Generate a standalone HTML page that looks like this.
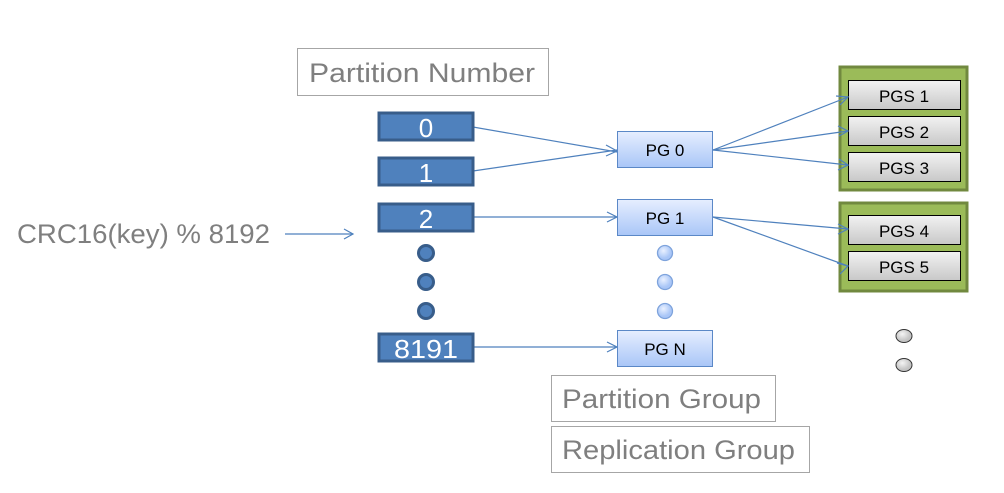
<!DOCTYPE html>
<html><head><style>
body{margin:0;background:#fff;width:1004px;height:493px;overflow:hidden;font-family:"Liberation Sans","Noto Sans CJK KR",sans-serif}
</style></head><body>
<svg width="1004" height="493" xmlns="http://www.w3.org/2000/svg" style="position:absolute;left:0;top:0">
<defs>
<linearGradient id="pg" x1="0" y1="0" x2="0" y2="1"><stop offset="0" stop-color="#e6eeff"/><stop offset="1" stop-color="#a9c6f7"/></linearGradient>
<linearGradient id="gs" x1="0" y1="0" x2="0" y2="1"><stop offset="0" stop-color="#f2f2f2"/><stop offset="1" stop-color="#c8c8c8"/></linearGradient>
<radialGradient id="lc" cx="0.4" cy="0.35"><stop offset="0" stop-color="#eaf1ff"/><stop offset="1" stop-color="#a9c6f7"/></radialGradient>
<radialGradient id="gc" cx="0.4" cy="0.35"><stop offset="0" stop-color="#f4f4f4"/><stop offset="1" stop-color="#c4c4c4"/></radialGradient>
</defs>
<g fill="none" stroke="#a6a6a6" stroke-width="1">
<rect x="297.5" y="48.5" width="251" height="47"/>
<rect x="551.5" y="375.5" width="224" height="46"/>
<rect x="551.5" y="426.5" width="258" height="46"/>
</g>
<g font-size="27" fill="#7f7f7f">
<text x="309" y="82" textLength="226" lengthAdjust="spacingAndGlyphs">Partition Number</text>
<text x="562" y="408" textLength="199" lengthAdjust="spacingAndGlyphs">Partition Group</text>
<text x="562" y="459" textLength="233" lengthAdjust="spacingAndGlyphs">Replication Group</text>
<text x="17" y="243" textLength="253" lengthAdjust="spacingAndGlyphs">CRC16(key) % 8192</text>
</g>
<g fill="#9bbb59" stroke="#71893f" stroke-width="3">
<rect x="840" y="67" width="127" height="123"/>
<rect x="840" y="203" width="127" height="88"/>
</g>
<g fill="url(#gs)" stroke="#000" stroke-width="1">
<rect x="848.5" y="80.5" width="112" height="29"/>
<rect x="848.5" y="116.5" width="112" height="29"/>
<rect x="848.5" y="152.5" width="112" height="29"/>
<rect x="848.5" y="215.5" width="112" height="29"/>
<rect x="848.5" y="251.5" width="112" height="29"/>
</g>
<g font-size="17" fill="#000" text-anchor="middle">
<text x="904" y="102">PGS 1</text><text x="904" y="138">PGS 2</text><text x="904" y="174">PGS 3</text>
<text x="904" y="237">PGS 4</text><text x="904" y="273">PGS 5</text>
</g>
<g stroke="#4f81bd" stroke-width="1.2" fill="none">
<line x1="285" y1="234" x2="353" y2="234"/><polyline points="344,229 353,234 344,239"/>
<line x1="473" y1="127" x2="617" y2="152"/>
<line x1="473" y1="171" x2="617" y2="150"/>
<polyline points="606,145 617,151 606,156"/>
<line x1="473" y1="217" x2="617" y2="217"/><polyline points="607,212 617,217 607,222"/>
<line x1="473" y1="347" x2="617" y2="347"/><polyline points="607,342 617,347 607,352"/>
<line x1="713" y1="150" x2="848" y2="97"/><polyline points="836,96 848,97 840,105"/>
<line x1="713" y1="150" x2="848" y2="131"/><polyline points="838,126 848,131 839,136"/>
<line x1="713" y1="150" x2="848" y2="165"/><polyline points="839,159 848,165 838,170"/>
<line x1="713" y1="217" x2="848" y2="229"/><polyline points="838,224 848,229 838,234"/>
<line x1="713" y1="217" x2="848" y2="266"/><polyline points="837,263 848,266 840,274"/>
</g>
<g fill="#4f81bd" stroke="#385d8a" stroke-width="3">
<rect x="379" y="113" width="94" height="27"/>
<rect x="379" y="158" width="94" height="27"/>
<rect x="379" y="204" width="94" height="27"/>
<rect x="379" y="334" width="94" height="27"/>
<circle cx="426" cy="253" r="7.5"/><circle cx="426" cy="282" r="7.5"/><circle cx="426" cy="311" r="7.5"/>
</g>
<g fill="#fff" font-size="26" text-anchor="middle">
<text x="426" y="137">0</text><text x="426" y="182">1</text><text x="426" y="228">2</text><text x="426" y="358" textLength="64" lengthAdjust="spacingAndGlyphs">8191</text>
</g>
<g fill="url(#pg)" stroke="#5b88c7" stroke-width="1">
<rect x="617.5" y="131.5" width="95" height="36"/>
<rect x="617.5" y="199.5" width="95" height="36"/>
<rect x="617.5" y="330.5" width="95" height="36"/>
</g>
<g fill="url(#lc)" stroke="#7ea3dc" stroke-width="1.3">
<circle cx="665" cy="253" r="7.5"/><circle cx="665" cy="282" r="7.5"/><circle cx="665" cy="311" r="7.5"/>
</g>
<g font-size="17" fill="#000" text-anchor="middle">
<text x="665" y="156">PG 0</text><text x="665" y="224">PG 1</text><text x="665" y="355">PG N</text>
</g>
<g fill="url(#gc)" stroke="#333" stroke-width="1">
<ellipse cx="904" cy="336" rx="8" ry="6.5"/><ellipse cx="904" cy="365" rx="8" ry="6.5"/>
</g>
</svg>
</body></html>
